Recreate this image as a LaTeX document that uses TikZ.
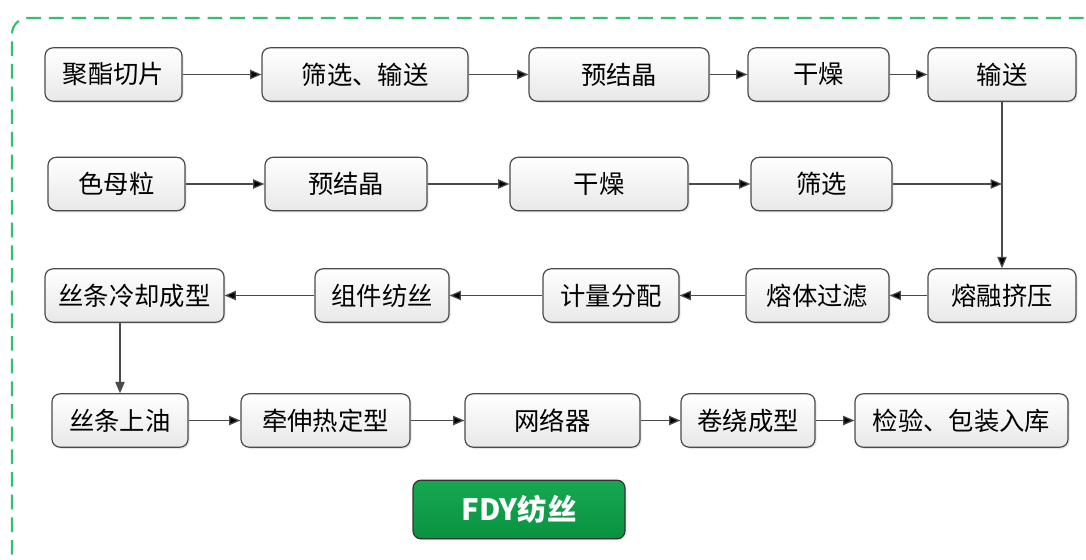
\documentclass[tikz,border=0pt]{standalone}
\usepackage{fontspec}
\newfontfamily\cjk{Noto Sans CJK SC}
\usetikzlibrary{arrows.meta,shadows}
\definecolor{frame}{HTML}{33C06A}
\definecolor{edgegray}{HTML}{4A4A4A}
\definecolor{fdy}{HTML}{0AA348}
\tikzset{
    %Define standard arrow tip
    >={Triangle[length=8.5pt,width=7pt]},
    %Define style for boxes
    stage/.style={
           rectangle,
           rounded corners=6pt,
           draw=edgegray, line width=0.9pt,
           minimum height=40pt,
           inner sep=2pt,
           font=\cjk\fontsize{19}{21}\selectfont,
           text centered,
           top color=white, bottom color=black!9,
           drop shadow={opacity=0.2,shadow xshift=1.2pt,shadow yshift=-1.2pt}},
    title/.style={
           stage,
           minimum height=44pt,
           draw=black!80,
           top color=fdy!95!white, bottom color=fdy!90!black,
           text=white,
           font=\cjk\bfseries\fontsize{22}{24}\selectfont},
    % Define arrow style
    flow/.style={
           ->,
           draw=edgegray,
           line width=0.9pt}
}
\begin{document}
\begin{tikzpicture}[x=0.75pt,y=-0.75pt]
\useasboundingbox (0,0) rectangle (1086,560);
\begin{scope}
\clip (0,0) rectangle (1086,560);
\draw[frame, line width=1.6pt, dash pattern=on 11pt off 6pt, rounded corners=12pt]
      (12,600) -- (12,18) -- (1120,18);
\end{scope}
% raw material line
\node[stage, minimum width=102.75pt] (chip)   at (113.5,74.5) {聚酯切片};
\node[stage, minimum width=154.5pt]  (sieve)  at (365,74.5)   {筛选、输送};
\node[stage, minimum width=135pt]    (cryst)  at (619,74.5)   {预结晶};
\node[stage, minimum width=105.75pt] (dry)    at (818.5,74.5) {干燥};
\node[stage, minimum width=111pt]    (convey) at (1002,74.5)  {输送};
% masterbatch line
\node[stage, minimum width=102.75pt] (mb)      at (116.5,184) {色母粒};
\node[stage, minimum width=121.5pt]  (mbcryst) at (346,184)   {预结晶};
\node[stage, minimum width=133.5pt]  (mbdry)   at (599,184)   {干燥};
\node[stage, minimum width=105.75pt] (mbsieve) at (821.5,184) {筛选};
\coordinate (join) at (1002,184);
% melt spinning
\node[stage, minimum width=134.25pt] (quench) at (134.5,295.5) {丝条冷却成型};
\node[stage, minimum width=100.5pt]  (spin)   at (382,295.5)   {组件纺丝};
\node[stage, minimum width=102pt]    (meter)  at (611,295.5)   {计量分配};
\node[stage, minimum width=107.25pt] (filter) at (817.5,295.5) {熔体过滤};
\node[stage, minimum width=111pt]    (melt)   at (1002,295.5)  {熔融挤压};
% finishing
\node[stage, minimum width=102pt]    (oil)     at (120,420.5)   {丝条上油};
\node[stage, minimum width=126.75pt] (stretch) at (325.5,420.5) {牵伸热定型};
\node[stage, minimum width=131.25pt] (inter)   at (552.5,420.5) {网络器};
\node[stage, minimum width=100.5pt]  (wind)    at (748,420.5)   {卷绕成型};
\node[stage, minimum width=159.75pt] (pack)    at (961.5,420.5) {检验、包装入库};
\node[title, minimum width=159pt]    (fdy)     at (519,509.5)   {FDY纺丝};
\coordinate (drop) at (quench.south -| oil.north);
\path[flow]
	(chip) edge (sieve)
	(sieve) edge (cryst)
	(cryst) edge (dry)
	(dry) edge (convey)
	(mb) edge (mbcryst)
	(mbcryst) edge (mbdry)
	(mbdry) edge (mbsieve)
	(mbsieve) edge (join)
	(convey) edge (melt)
	(melt) edge (filter)
	(filter) edge (meter)
	(meter) edge (spin)
	(spin) edge (quench)
	(oil) edge (stretch)
	(stretch) edge (inter)
	(inter) edge (wind)
	(wind) edge (pack);
\draw[flow] (drop) -- (oil);
\end{tikzpicture}
\end{document}
